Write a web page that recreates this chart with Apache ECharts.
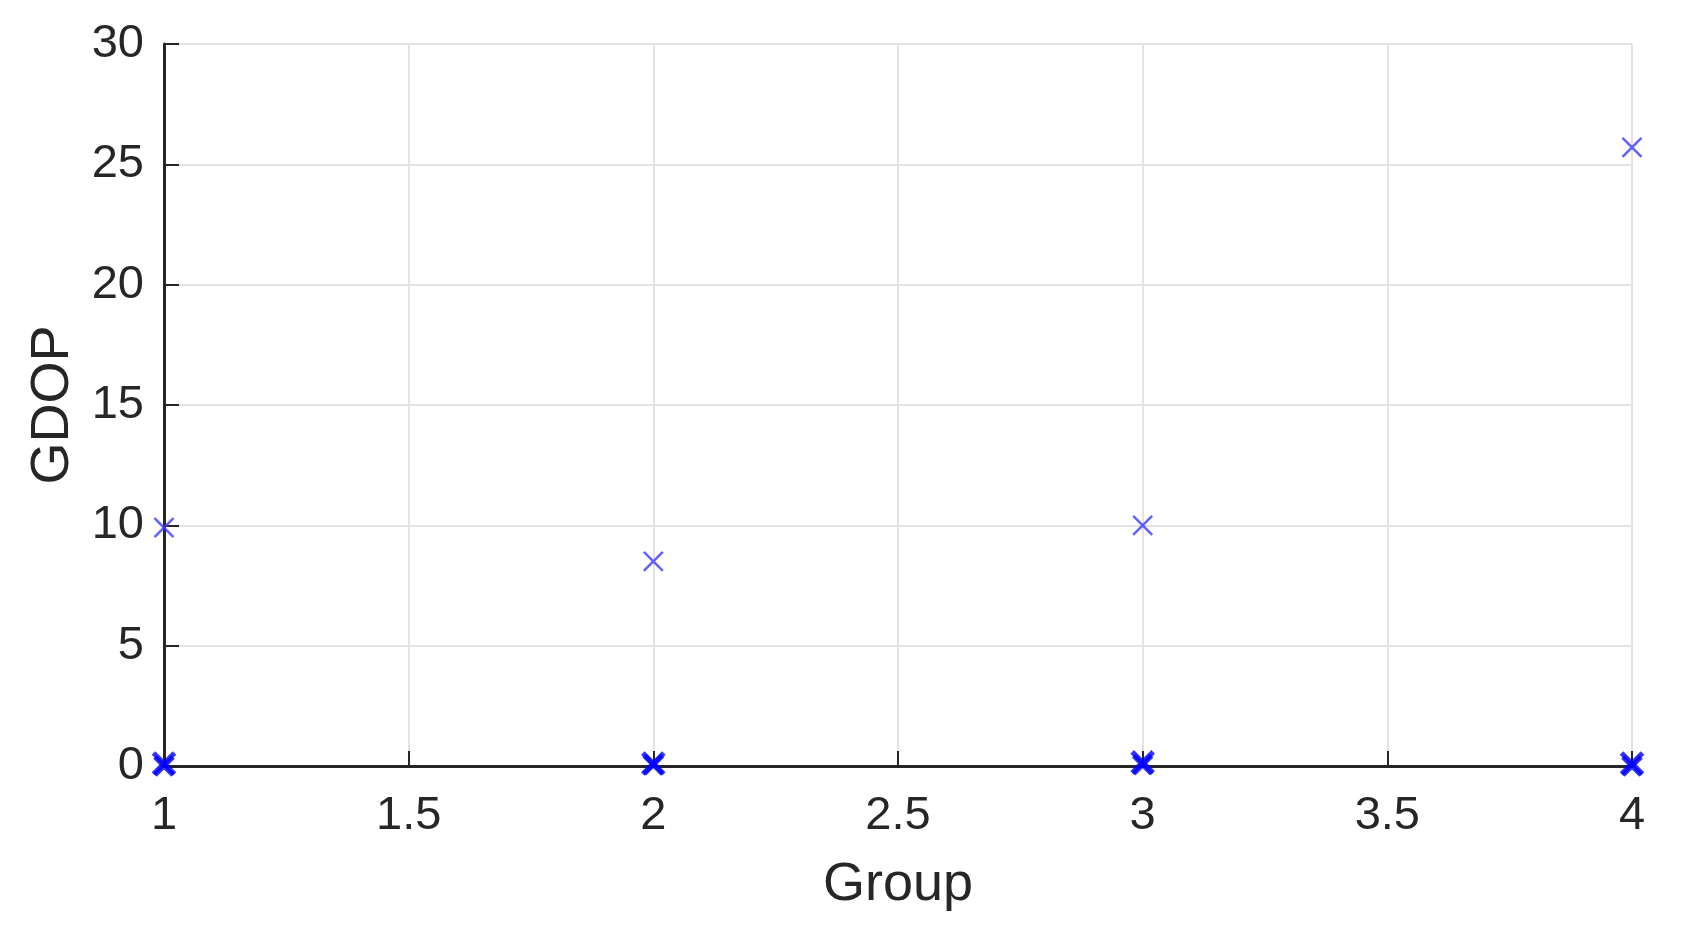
<!DOCTYPE html>
<html>
<head>
<meta charset="utf-8">
<title>GDOP by group</title>
<script src="https://cdn.jsdelivr.net/npm/echarts@6/dist/echarts.min.js"></script>
<style>
    html, body { margin: 0; padding: 0; background: #fff; }
    #chart { width: 1682px; height: 932px; }
</style>
</head>
<body>
<div id="chart"></div>
<script>
// data
var groups = [1, 2, 3, 4];
var gdopHigh = [9.9, 8.5, 10.0, 25.7];
var gdopLowA = [0.1, 0.1, 0.15, 0.1];
var gdopLowB = [0.0, 0.05, 0.05, 0.0];
var xTicks = [1, 1.5, 2, 2.5, 3, 3.5, 4];
var yTicks = [0, 5, 10, 15, 20, 25, 30];

var CROSS = 'path://M0,0L10,10M0,10L10,0';
var FONT = '"Liberation Sans", Arial, sans-serif';

function pairs(ys) {
    return groups.map(function (g, i) { return [g, ys[i]]; });
}

function crossSeries(ys, size, width, color) {
    return {
        type: 'scatter',
        data: pairs(ys),
        symbol: CROSS,
        symbolSize: size,
        clip: false,
        itemStyle: { color: 'none', borderColor: color, borderWidth: width },
        emphasis: { disabled: true }
    };
}

var chart = echarts.init(document.getElementById('chart'));
chart.setOption({
    animation: false,
    grid: { left: 164, right: 50, top: 44, bottom: 166 },
    xAxis: {
        type: 'value',
        min: xTicks[0], max: xTicks[xTicks.length - 1], interval: 0.5,
        name: 'Group', nameLocation: 'middle', nameGap: 92,
        nameTextStyle: { fontFamily: FONT, fontSize: 54, color: '#262626' },
        axisLine: { show: true, onZero: false, lineStyle: { color: '#262626', width: 3 } },
        axisTick: { show: true, inside: true, length: 15, lineStyle: { color: '#262626', width: 2 } },
        axisLabel: { fontFamily: FONT, fontSize: 47, color: '#262626', margin: 27 },
        splitLine: { show: true, lineStyle: { color: '#e3e3e3', width: 2 } }
    },
    yAxis: {
        type: 'value',
        min: yTicks[0], max: yTicks[yTicks.length - 1], interval: 5,
        name: 'GDOP', nameLocation: 'middle', nameGap: 84,
        nameTextStyle: { fontFamily: FONT, fontSize: 54, color: '#262626' },
        axisLine: { show: true, onZero: false, lineStyle: { color: '#262626', width: 3 } },
        axisTick: { show: true, inside: true, length: 15, lineStyle: { color: '#262626', width: 2 } },
        axisLabel: { fontFamily: FONT, fontSize: 47, color: '#262626', margin: 20 },
        splitLine: { show: true, lineStyle: { color: '#e3e3e3', width: 2 } }
    },
    series: [
        crossSeries(gdopHigh, 19, 2.5, '#3a3aff'),
        crossSeries(gdopLowA, 21, 5, '#0000ff'),
        crossSeries(gdopLowB, 18, 5, '#0000ff')
    ]
});
</script>
</body>
</html>
